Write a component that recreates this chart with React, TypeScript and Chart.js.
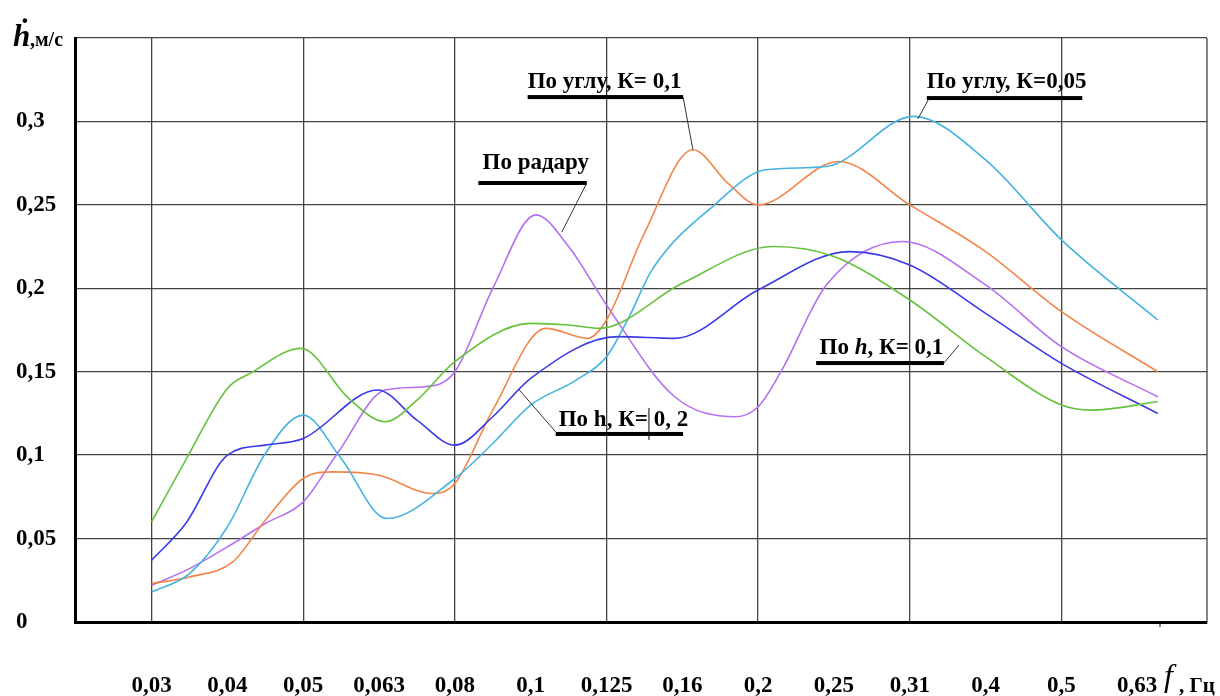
import React, { useEffect, useRef } from 'react';
import { Chart, registerables } from 'chart.js';

Chart.register(...registerables);

// Frequency categories (f, Гц), placed at index positions 0..13
const freqLabels = ['0,03', '0,04', '0,05', '0,063', '0,08', '0,1', '0,125', '0,16', '0,2', '0,25', '0,31', '0,4', '0,5', '0,63'];
const yTickLabels = ['0', '0,05', '0,1', '0,15', '0,2', '0,25', '0,3', ''];

// По h, К=0,1 (green)
const hK01X = [0, 0.45, 1, 1.3, 1.97, 2.6, 3.08, 3.5, 4, 5, 5.5, 5.9, 7, 8.2, 9, 10, 11, 12, 12.4, 13.27];
const hK01Y = [0.06, 0.097, 0.14, 0.149, 0.164, 0.134, 0.12, 0.133, 0.156, 0.179, 0.178, 0.176, 0.203, 0.225, 0.219, 0.193, 0.159, 0.13, 0.127, 0.132];

// По h, К=0,2 (blue)
const hK02X = [0, 0.45, 1, 1.5, 2, 2.98, 3.5, 4, 4.5, 5, 6.15, 6.9, 8, 9.2, 10, 11, 12, 13.27];
const hK02Y = [0.037, 0.059, 0.1, 0.106, 0.11, 0.139, 0.121, 0.106, 0.123, 0.146, 0.171, 0.17, 0.199, 0.222, 0.214, 0.185, 0.155, 0.125];

// По углу, К=0,05 (light blue)
const angK005X = [0, 0.5, 1, 1.5, 2, 2.5, 3.1, 4, 4.5, 5, 5.6, 6, 6.3, 6.6, 7.4, 8.1, 8.9, 10.05, 11, 12, 13.27];
const angK005Y = [0.018, 0.029, 0.057, 0.101, 0.124, 0.098, 0.062, 0.086, 0.107, 0.13, 0.145, 0.159, 0.183, 0.211, 0.249, 0.271, 0.273, 0.303, 0.277, 0.229, 0.181];

// По углу, К=0,1 (orange)
const angK01X = [0, 0.5, 1.07, 1.5, 2, 2.4, 3, 3.7, 4, 4.5, 5.2, 5.75, 6, 6.5, 7.14, 7.6, 8, 9.06, 10, 11, 12, 13.27];
const angK01Y = [0.023, 0.027, 0.036, 0.061, 0.086, 0.09, 0.088, 0.077, 0.083, 0.127, 0.176, 0.17, 0.181, 0.233, 0.283, 0.263, 0.25, 0.276, 0.25, 0.222, 0.186, 0.15];

// По радару (purple)
const radarX = [0, 0.5, 1, 1.5, 2, 2.45, 3.08, 3.6, 4, 4.5, 5.07, 5.5, 6, 6.9, 7.7, 8, 8.3, 8.9, 9.9, 11, 12, 13.27];
const radarY = [0.022, 0.032, 0.045, 0.059, 0.072, 0.101, 0.139, 0.141, 0.15, 0.2, 0.244, 0.225, 0.19, 0.135, 0.123, 0.129, 0.15, 0.202, 0.228, 0.202, 0.165, 0.135];

// Callout labels: text anchor (x index, value), underline (x1, x2, value), leader (x1, v1, x2, v2)
const noteTexts = ['По углу, К= 0,1', 'По радару', 'По углу, К=0,05', 'По h, К= 0,1', 'По h, К= 0, 2'];
const noteAnchors = [[4.96, 0.32], [4.365, 0.2715], [10.225, 0.32], [8.81, 0.1606], [5.37, 0.1175]];
const noteUnderlines = [[4.96, 7.01, 0.3146], [4.31, 5.74, 0.2631], [10.225, 12.275, 0.314], [8.765, 10.45, 0.1552], [5.33, 7.01, 0.1127]];
const noteLeaders = [[7.01, 0.3146, 7.14, 0.283], [5.74, 0.2631, 5.41, 0.2337], [10.25, 0.3134, 10.106, 0.3015], [10.45, 0.1552, 10.65, 0.166], [5.33, 0.1139, 4.84, 0.1396]];

const SERIF = '"Liberation Serif", "Times New Roman", serif';

const toPoints = (xs: number[], ys: number[]) => xs.map((x, k) => ({ x, y: ys[k] }));

const frameEdgePlugin = {
  id: 'frameEdge',
  beforeDatasetsDraw(chart: any) {
    const { ctx, chartArea } = chart;
    ctx.save();
    ctx.strokeStyle = '#444';
    ctx.lineWidth = 1.3;
    ctx.beginPath();
    ctx.moveTo(chartArea.right, chartArea.top);
    ctx.lineTo(chartArea.right, chartArea.bottom);
    ctx.stroke();
    ctx.restore();
  },
};

const notesPlugin = {
  id: 'notes',
  afterDatasetsDraw(chart: any) {
    const { ctx, scales, chartArea } = chart;
    const xs = scales.x;
    const ys = scales.y;
    ctx.save();
    ctx.fillStyle = '#000';
    ctx.textBaseline = 'alphabetic';
    ctx.textAlign = 'left';
    const nf = `bold 23px ${SERIF}`;
    noteTexts.forEach((t, k) => {
      const px = xs.getPixelForValue(noteAnchors[k][0]);
      const py = ys.getPixelForValue(noteAnchors[k][1]);
      if (k === 3) {
        let cx = px;
        ctx.font = nf;
        ctx.fillText('По ', cx, py);
        cx += ctx.measureText('По ').width;
        ctx.font = `italic bold 23px ${SERIF}`;
        ctx.fillText('h', cx, py);
        cx += ctx.measureText('h').width;
        ctx.font = nf;
        ctx.fillText(', К= 0,1', cx, py);
      } else {
        ctx.font = nf;
        ctx.fillText(t, px, py);
      }
      const u = noteUnderlines[k];
      ctx.fillRect(xs.getPixelForValue(u[0]), ys.getPixelForValue(u[2]) - 2, xs.getPixelForValue(u[1]) - xs.getPixelForValue(u[0]), 4);
      const l = noteLeaders[k];
      ctx.strokeStyle = '#333';
      ctx.lineWidth = 1;
      ctx.beginPath();
      ctx.moveTo(xs.getPixelForValue(l[0]), ys.getPixelForValue(l[1]));
      ctx.lineTo(xs.getPixelForValue(l[2]), ys.getPixelForValue(l[3]));
      ctx.stroke();
    });
    // text cursor mark in the К=0,2 label
    ctx.strokeStyle = '#000';
    ctx.lineWidth = 1;
    ctx.beginPath();
    ctx.moveTo(xs.getPixelForValue(6.56), ys.getPixelForValue(0.1283));
    ctx.lineTo(xs.getPixelForValue(6.56), ys.getPixelForValue(0.1091));
    ctx.stroke();

    // small tick below the axis near the last category
    const bottom = chartArea.bottom;
    const right = chartArea.right;
    ctx.beginPath();
    ctx.moveTo(xs.getPixelForValue(13.3), bottom);
    ctx.lineTo(xs.getPixelForValue(13.3), bottom + 5);
    ctx.stroke();

    // axis titles
    const left = chartArea.left;
    const top = chartArea.top;
    ctx.font = `italic bold 31px ${SERIF}`;
    ctx.fillText('h\u0307', left - 62, top + 8);
    ctx.font = `bold 20px ${SERIF}`;
    ctx.fillText(',м/с', left - 45, top + 8);

    ctx.font = `italic 32px ${SERIF}`;
    ctx.fillText('f', right - 43, bottom + 64);
    ctx.font = `bold 21px ${SERIF}`;
    ctx.fillText(', Гц', right - 28, bottom + 70);
    ctx.restore();
  },
};

export default function App() {
  const ref = useRef<HTMLCanvasElement | null>(null);
  useEffect(() => {
    if (!ref.current) return;
    const font = { family: SERIF, size: 23, weight: 'bold' as const };
    const mk = (label: string, xs: number[], ys: number[], color: string) => ({
      label,
      data: toPoints(xs, ys),
      borderColor: color,
      backgroundColor: color,
      borderWidth: 1.6,
      pointRadius: 0,
      fill: false,
      cubicInterpolationMode: 'monotone' as const,
    });
    const chart = new Chart(ref.current, {
      type: 'line',
      data: {
        datasets: [
          mk('По h, К=0,1', hK01X, hK01Y, '#66c23c'),
          mk('По h, К=0,2', hK02X, hK02Y, '#3a3ae6'),
          mk('По углу, К=0,05', angK005X, angK005Y, '#45b2e2'),
          mk('По углу, К=0,1', angK01X, angK01Y, '#f2864a'),
          mk('По радару', radarX, radarY, '#b56ff0'),
        ],
      },
      options: {
        responsive: false,
        animation: false,
        layout: { padding: { left: 16, top: 38, right: 13, bottom: 0 } },
        plugins: { legend: { display: false }, tooltip: { enabled: false } },
        scales: {
          x: {
            type: 'linear',
            min: -1.01,
            max: 13.92,
            ticks: {
              stepSize: 1,
              includeBounds: false,
              autoSkip: false,
              maxRotation: 0,
              padding: 0,
              color: '#000',
              font,
              callback: (v: any) => {
                const i = Math.round(Number(v));
                return freqLabels[i] ?? '';
              },
            },
            grid: {
              drawTicks: true,
              tickLength: 50,
              tickColor: 'rgba(0,0,0,0)',
              lineWidth: 1.3,
              color: (c: any) => {
                const v = Math.round(c.tick?.value ?? -1);
                return (v >= 0 && v % 2 === 0) ? '#444' : 'rgba(0,0,0,0)';
              },
            },
            border: { display: true, color: '#000', width: 3 },
            afterFit: (s: any) => { s.height = 74; },
          },
          y: {
            min: 0,
            max: 0.35,
            ticks: {
              stepSize: 0.05,
              crossAlign: 'far',
              padding: 0,
              color: '#000',
              font,
              callback: (_v: any, i: number) => yTickLabels[i] ?? '',
            },
            grid: { drawTicks: false, lineWidth: 1.3, color: '#444' },
            border: { display: true, color: '#000', width: 3 },
            afterFit: (s: any) => { s.width = 59; },
          },
        },
      },
      plugins: [frameEdgePlugin, notesPlugin],
    });
    return () => chart.destroy();
  }, []);
  return (
    <div style={{ position: 'fixed', left: 0, top: 0, width: 1220, height: 696, background: '#fff' }}>
      <canvas ref={ref} width={1220} height={696} style={{ display: 'block' }} />
    </div>
  );
}
